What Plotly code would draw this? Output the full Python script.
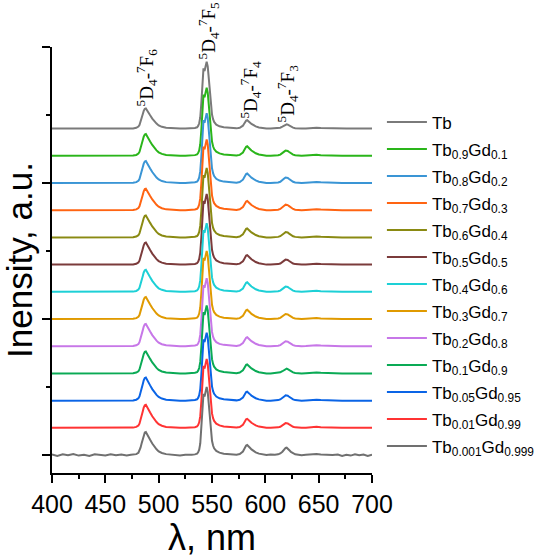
import plotly.graph_objects as go

# ---------------- data ----------------
names = ["Tb", "Tb<sub>0.9</sub>Gd<sub>0.1</sub>", "Tb<sub>0.8</sub>Gd<sub>0.2</sub>",
         "Tb<sub>0.7</sub>Gd<sub>0.3</sub>", "Tb<sub>0.6</sub>Gd<sub>0.4</sub>",
         "Tb<sub>0.5</sub>Gd<sub>0.5</sub>", "Tb<sub>0.4</sub>Gd<sub>0.6</sub>",
         "Tb<sub>0.3</sub>Gd<sub>0.7</sub>", "Tb<sub>0.2</sub>Gd<sub>0.8</sub>",
         "Tb<sub>0.1</sub>Gd<sub>0.9</sub>", "Tb<sub>0.05</sub>Gd<sub>0.95</sub>",
         "Tb<sub>0.01</sub>Gd<sub>0.99</sub>", "Tb<sub>0.001</sub>Gd<sub>0.999</sub>"]
colors = ["#7a7a7a", "#2ab51a", "#3a95d5", "#ff6412", "#8a8a12", "#7b3b3b", "#1dd0d6",
          "#e09a00", "#c777e8", "#0aaa55", "#0a64e6", "#ff3333", "#707070"]
offsets = [12, 11, 10, 9, 8, 7, 6, 5, 4, 3, 2, 1, 0]

# baseline wavelengths (nm) and the noise seen on the lowest spectrum
x_base = [400, 405, 410, 415, 420, 425, 430, 435, 440, 445, 450, 455, 460, 465, 470, 474,
          515, 520, 525, 529, 571, 601, 605, 634, 668, 672, 676, 680, 684, 688, 692, 696, 700]
jitter_low = [0.02, -0.03, 0.03, -0.01, 0.04, -0.02, 0.01, -0.03, 0.03, 0.0, -0.02, 0.03,
              -0.01, 0.02, -0.02, 0.01, 0.02, -0.02, 0.01, 0.0, 0.01, 0.0, 0.02, -0.01,
              0.02, -0.03, 0.01, -0.02, 0.03, -0.01, 0.02, -0.03, 0.01]

# band profiles (normalised), 5D4-7F6 ... 7F3 and a weak band near 645 nm
x_b1 = [476, 479, 481, 482, 483, 484, 485, 486, 487, 488, 489, 490, 491, 492, 494, 496, 498,
        500, 503, 507, 511]
s_b1 = [0.01, 0.04, 0.10, 0.18, 0.32, 0.50, 0.70, 0.88, 0.98, 1.0, 0.93, 0.84, 0.75, 0.66,
        0.50, 0.36, 0.25, 0.16, 0.09, 0.04, 0.02]
x_b2 = [531, 534, 536, 537, 538, 539, 540, 541, 542, 543, 544, 545, 546, 547, 548, 549, 550,
        551, 552, 554, 557, 561, 566, 570]
s_b2 = [0.005, 0.01, 0.02, 0.04, 0.08, 0.17, 0.38, 0.68, 0.90, 0.86, 0.95, 1.0, 0.93, 0.74,
        0.52, 0.33, 0.21, 0.14, 0.10, 0.06, 0.035, 0.02, 0.01, 0.005]
x_b3 = [573, 576, 578, 579, 580, 581, 582, 583, 584, 585, 586, 587, 589, 591, 594, 597, 600]
s_b3 = [0.03, 0.10, 0.22, 0.35, 0.55, 0.78, 0.95, 1.0, 0.92, 0.80, 0.67, 0.56, 0.40, 0.27,
        0.14, 0.07, 0.03]
x_b4 = [609, 612, 614, 616, 617, 618, 619, 620, 621, 622, 623, 624, 626, 628, 631]
s_b4 = [0.03, 0.10, 0.22, 0.45, 0.62, 0.82, 0.97, 1.0, 0.90, 0.75, 0.58, 0.42, 0.22, 0.10, 0.03]
x_b5 = [638, 642, 645, 648, 652, 657, 663]
s_b5 = [0.2, 0.6, 1.0, 0.9, 0.6, 0.3, 0.1]

# band heights per sample (same order as names)
h_b1 = [0.74, 0.80, 0.81, 0.79, 0.81, 0.81, 0.81, 0.81, 0.82, 0.81, 0.85, 0.85, 0.85]
h_b2 = [2.46, 2.50, 2.57, 2.60, 2.55, 2.60, 2.52, 2.50, 2.50, 2.50, 2.50, 2.53, 2.50]
h_b3 = [0.31, 0.35, 0.35, 0.34, 0.33, 0.35, 0.35, 0.34, 0.33, 0.33, 0.33, 0.33, 0.37]
h_b4 = [0.16, 0.20, 0.21, 0.21, 0.20, 0.19, 0.20, 0.19, 0.19, 0.18, 0.20, 0.18, 0.27]
h_b5 = [0.03, 0.04, 0.04, 0.04, 0.04, 0.04, 0.04, 0.04, 0.04, 0.04, 0.04, 0.04, 0.04]

band_x = [x_b1, x_b2, x_b3, x_b4, x_b5]
band_s = [s_b1, s_b2, s_b3, s_b4, s_b5]
band_h = [h_b1, h_b2, h_b3, h_b4, h_b5]

labels = ["<sup>5</sup>D<sub>4</sub>-<sup>7</sup>F<sub>6</sub>",
          "<sup>5</sup>D<sub>4</sub>-<sup>7</sup>F<sub>5</sub>",
          "<sup>5</sup>D<sub>4</sub>-<sup>7</sup>F<sub>4</sub>",
          "<sup>5</sup>D<sub>4</sub>-<sup>7</sup>F<sub>3</sub>"]
label_x = [489, 547, 586, 620.5]

# ---------------- figure ----------------
fig = go.Figure()
for i, name in enumerate(names):
    pts = {}
    for j, xv in enumerate(x_base):
        pts[xv] = jitter_low[j] if i == len(names) - 1 else 0.0
    for bx, bs, bh in zip(band_x, band_s, band_h):
        for xv, sv in zip(bx, bs):
            pts[xv] = bh[i] * sv
    xs = sorted(pts)
    ys = [pts[k] + offsets[i] for k in xs]
    fig.add_trace(go.Scatter(x=xs, y=ys, mode="lines", name=name, legendgroup=str(i),
                             line=dict(color=colors[i], width=2)))

# transition labels, above the top (Tb) spectrum's peaks
for k, (lab, lx) in enumerate(zip(labels, label_x)):
    fig.add_annotation(x=lx, y=offsets[0] + band_h[k][0], text=lab, textangle=-90,
                       showarrow=False, xanchor="center", yanchor="bottom",
                       font=dict(family="Liberation Serif", size=19, color="black"))

fig.update_layout(
    width=550, height=558,
    margin=dict(l=52, r=178, t=47, b=85, autoexpand=False),
    paper_bgcolor="white", plot_bgcolor="white",
    font=dict(family="Liberation Sans", color="black"),
    showlegend=True,
    legend=dict(x=1.031, y=0.865, xanchor="left", yanchor="top",
                font=dict(family="Liberation Sans", size=17, color="black"),
                itemwidth=40, tracegroupgap=1.9, bgcolor="rgba(0,0,0,0)"),
)
fig.update_xaxes(range=[400, 700], dtick=50, tick0=400, showgrid=False, zeroline=False,
                 automargin=False,
                 showline=True, linecolor="black", linewidth=1.5,
                 ticks="outside", ticklen=8, tickwidth=1.5, tickcolor="black",
                 minor=dict(dtick=25, ticks="outside", ticklen=4, tickwidth=1.5, tickcolor="black"),
                 tickfont=dict(size=25, family="Liberation Sans"),
                 title=dict(text="λ, nm", font=dict(size=36, family="Liberation Sans"), standoff=10))
fig.update_yaxes(range=[-0.66, 15], dtick=5, tick0=0, showgrid=False, zeroline=False,
                 automargin=False,
                 showline=True, linecolor="black", linewidth=1.5, showticklabels=False,
                 ticks="outside", ticklen=8, tickwidth=1.5, tickcolor="black",
                 minor=dict(dtick=2.5, ticks="outside", ticklen=4, tickwidth=1.5, tickcolor="black"),
                 title=dict(text="Inensity, a.u.", font=dict(size=35, family="Liberation Sans"), standoff=14))

# remove the page's default body margin so the figure fills the window
fig.write_html("out.html", config={"displayModeBar": False},
               post_script="document.body.style.margin='0';")
